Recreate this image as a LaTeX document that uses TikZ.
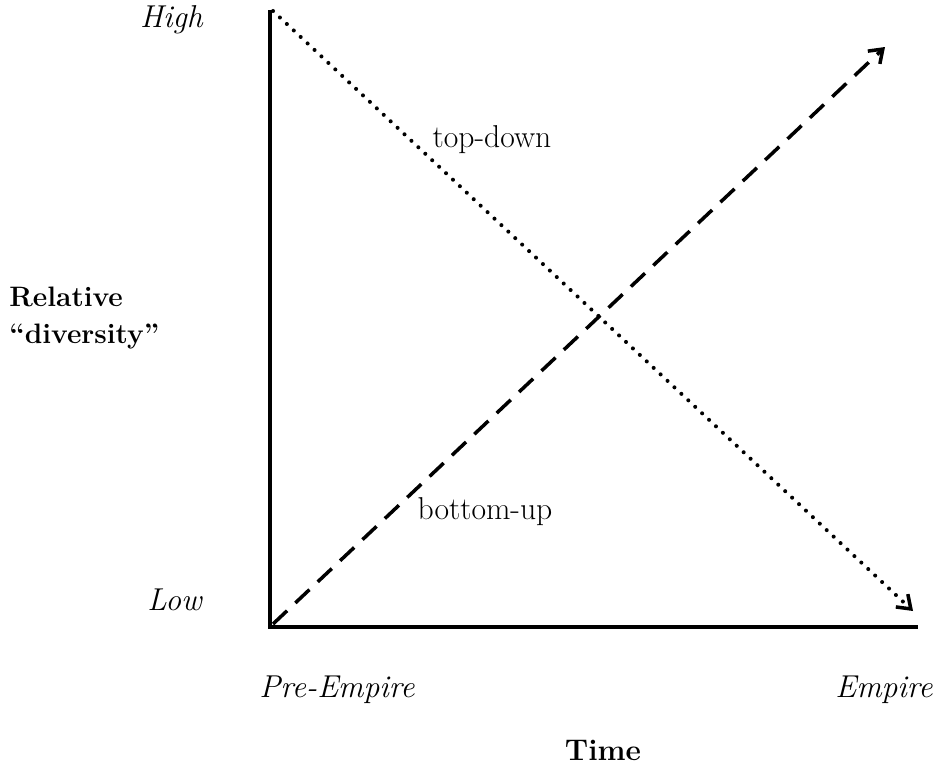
\documentclass[tikz,border=0pt]{standalone}
\usepackage{tikz}
\usetikzlibrary{arrows.meta}
\tikzset{
    axisline/.style={
        line width=2.3pt,
        black
    },
    % dotted curve, falling
    dotline/.style={
        line width=2.3pt,
        line cap=round,
        dash pattern=on 0pt off 5.4pt,
        -{Straight Barb[length=7pt, width=10pt, line width=2pt]}
    },
    % dashed curve, rising
    dashline/.style={
        line width=2pt,
        dash pattern=on 11pt off 6.5pt,
        -{Straight Barb[length=7pt, width=10pt, line width=2pt]}
    },
    lbl/.style={font=\fontsize{18}{21.5}\selectfont, inner sep=0pt}
}

\begin{document}
\begin{tikzpicture}[x=0.02cm, y=-0.02cm]
	\useasboundingbox (0,0) rectangle (938,765);

	\coordinate (origin) at (270,627);
	\coordinate (ytop) at (270,10);
	\coordinate (xend) at (918,627);
	\coordinate (dotstart) at (273,11);
	\coordinate (dotend) at (913,611);
	\coordinate (dashstart) at (273,624);
	\coordinate (dashend) at (885,47);

	\draw[axisline] (ytop) -- (origin) -- (xend);
	\draw[dotline] (dotstart) -- (dotend);
	\draw[dashline] (dashstart) -- (dashend);

	\node [lbl, anchor=east] (high) at (203,20) {\itshape High};
	\node [lbl, anchor=east] (low) at (202,600) {\itshape Low};
	\node [lbl, anchor=west, align=left, font=\fontsize{16}{21.5}\selectfont\bfseries] (ylabel) at (9,318) {Relative\\``diversity''};

	\node [lbl] (topdown) at (492,140) {top-down};
	\node [lbl] (bottomup) at (485,512) {bottom-up};

	\node [lbl] (pre) at (337,690) {\itshape Pre-Empire};
	\node [lbl] (emp) at (884,690) {\itshape Empire};
	\node [lbl, font=\fontsize{17}{21.5}\selectfont\bfseries] (time) at (603,750) {Time};
\end{tikzpicture}
\end{document}
